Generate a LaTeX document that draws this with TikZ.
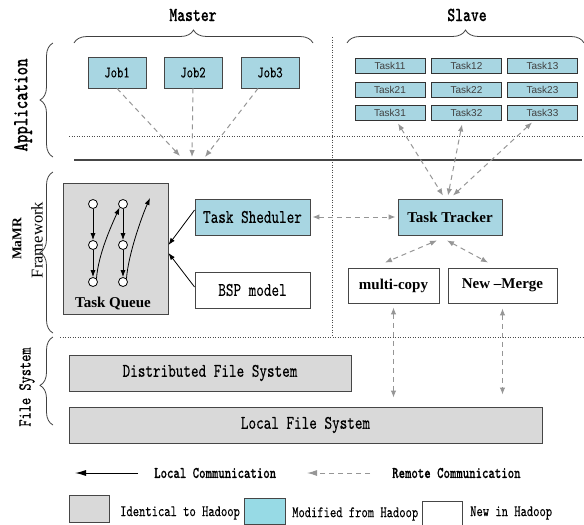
\documentclass[tikz,border=0pt]{standalone}
\usepackage{fontspec}
\newfontfamily\sansf{Liberation Sans}
\newfontfamily\serifb{Liberation Serif}
\newfontfamily\simtt{lmmono10-regular.otf}[BoldFont=lmmonolt10-bold.otf, FakeStretch=0.75,
  UprightFeatures={FakeBold=0.2}, BoldFeatures={FakeBold=0.3}]
\usetikzlibrary{arrows.meta,decorations.pathreplacing,calc}

\definecolor{boxblue}{RGB}{168,214,226}
\definecolor{boxgray}{RGB}{217,217,217}
\definecolor{edgegray}{RGB}{70,70,70}
\definecolor{dashgray}{RGB}{150,150,150}
\newcommand\fsz[1]{\fontsize{#1}{#1}\selectfont}

\tikzset{
  box/.style={draw=edgegray, line width=0.9pt, inner sep=0pt},
  jobbox/.style={box, fill=boxblue, minimum width=58pt, minimum height=31pt, font=\simtt\fsz{16}},
  taskbox/.style={box, draw=black!80, fill=boxblue, minimum width=70pt, minimum height=15pt, font=\sansf\fsz{10}, text=black!75},
  monobox/.style={box, minimum height=36pt, font=\simtt\fsz{19.3}},
  serbox/.style={box, minimum height=35pt, font=\serifb\bfseries\fsz{15}},
  dot/.style={circle, draw=black, fill=white, line width=0.8pt, minimum size=9pt, inner sep=0pt},
  qarrow/.style={draw=black, line width=0.8pt, -{Latex[length=7pt,width=5pt]}},
  remote/.style={draw=dashgray, line width=1pt, dash pattern=on 5pt off 4pt},
  rhead/.style={remote, -{Latex[length=7pt,width=5.5pt]}},
  rboth/.style={remote, {Latex[length=7pt,width=5.5pt]}-{Latex[length=7pt,width=5.5pt]}},
  cbrace/.style={decorate, decoration={brace, amplitude=13pt}, draw=black!75, line width=0.8pt},
  sepdot/.style={draw=black!70, line width=0.7pt, dash pattern=on 1pt off 1.5pt},
  lbl/.style={font=\simtt\fsz{16}, anchor=west, inner sep=0pt}
}

\begin{document}
\begin{tikzpicture}[x=1pt, y=-1pt]
\useasboundingbox (0,0) rectangle (584,525);

% headings and braces
\node[font=\simtt\bfseries\fsz{20}] (master) at (193,15) {Master};
\node[font=\simtt\bfseries\fsz{20}] (slave) at (467,15) {Slave};
\draw[cbrace] (74,43) -- (313,43);
\draw[cbrace] (347,43) -- (584,43);

% layer braces and labels
\draw[cbrace] (53,157) -- (53,43);
\draw[cbrace] (53,333) -- (53,172);
\draw[cbrace, decoration={aspect=0.45}] (53,425) -- (53,337);
\node[rotate=90, font=\simtt\bfseries\fsz{21.5}] (lapp) at (23,105) {Application};
\node[rotate=90, font=\serifb\bfseries\fsz{13.5}] (lmamr) at (17,239) {MaMR};
\node[rotate=90, font=\serifb\fsz{16.5}] (lfw) at (37,240) {Framework};
\node[rotate=90, font=\simtt\fsz{18.3}] (lfsys) at (27,387) {File System};

% separators
\draw[sepdot] (332,37) -- (332,335);
\draw[sepdot] (69,136) -- (584,136);
\draw[sepdot] (60,337) -- (584,337);
\draw[draw=edgegray, line width=1.2pt] (74,160) -- (582,160);

% application layer
\node[jobbox] (job1) at (117,72.5) {Job1};
\node[jobbox] (job2) at (193,72.5) {Job2};
\node[jobbox] (job3) at (270,72.5) {Job3};
\foreach \r/\y in {1/65.5, 2/89.5, 3/112.5}{
  \node[taskbox] (t\r1) at (390,\y) {Task\r1};
  \node[taskbox] (t\r2) at (466.5,\y) {Task\r2};
  \node[taskbox] (t\r3) at (542.5,\y) {Task\r3};
}
\coordinate (qa) at (180,156);
\coordinate (qb) at (192,157);
\coordinate (qc) at (205,157);
\draw[rhead] (job1.south) -- (qa);
\draw[rhead] (job2.south) -- (qb);
\draw[rhead] ([xshift=-12pt]job3.south) -- (qc);

% framework layer
\node[box, fill=boxgray, minimum width=105pt, minimum height=131pt] (tq) at (115.5,248.5) {};
\node[font=\serifb\bfseries\fsz{15}] (tqlabel) at (113,304) {Task Queue};
\node[dot] (c11) at (93,204) {};
\node[dot] (c12) at (93,245) {};
\node[dot] (c13) at (93,282) {};
\node[dot] (c21) at (123,204) {};
\node[dot] (c22) at (123,245) {};
\node[dot] (c23) at (123,282) {};
\coordinate (qend) at (150,198);
\draw[qarrow] (c11) -- (c12);
\draw[qarrow] (c12) -- (c13);
\draw[qarrow] (c21) -- (c22);
\draw[qarrow] (c22) -- (c23);
\draw[qarrow] (c13.north east) .. controls +(2,-25) and +(-8,18) .. (c21.south west);
\draw[qarrow] (c23.north east) .. controls +(2,-25) and +(-8,18) .. (qend);

\node[monobox, fill=boxblue, minimum width=115pt] (sched) at (252.5,217) {Task Sheduler};
\node[monobox, fill=white, minimum width=115pt] (bsp) at (252.5,290) {BSP model};
\node[serbox, fill=boxblue, minimum width=104pt, minimum height=36pt] (tracker) at (450,217) {Task Tracker};
\node[serbox, fill=white, minimum width=91pt] (mc) at (393.5,285.5) {multi-copy};
\node[serbox, fill=white, minimum width=109pt] (nm) at (502.5,285.5) {New \textendash Merge};

\draw[qarrow] ([yshift=7pt]sched.west) -- ([yshift=3.5pt]tq.east);
\draw[qarrow] ([yshift=3pt]bsp.west) -- ([yshift=-4.5pt]tq.east);

\draw[rboth, shorten <=2pt, shorten >=2pt] (sched.east) -- (tracker.west);
\draw[rboth] ([xshift=8pt,yshift=-3pt]t31.south) -- ([xshift=-7pt,yshift=3pt]tracker.north);
\draw[rboth] ([xshift=-4.5pt,yshift=-4pt]t32.south) -- ([xshift=-2pt,yshift=3pt]tracker.north);
\draw[rboth] ([xshift=-10.5pt,yshift=-2pt]t33.south) -- ([xshift=3pt,yshift=3pt]tracker.north);
\draw[rboth] ([xshift=-13pt,yshift=-5pt]tracker.south) -- ([xshift=-8.5pt,yshift=5pt]mc.north);
\draw[rboth] ([xshift=-3pt,yshift=-5pt]tracker.south) -- ([xshift=-14.5pt,yshift=5pt]nm.north);

% file system layer
\node[monobox, fill=boxgray, minimum width=282pt] (dfs) at (210,373) {Distributed File System};
\node[monobox, fill=boxgray, minimum width=473pt] (lfs) at (305.5,425) {Local File System};
\draw[rboth] ([yshift=-4pt]mc.south) -- ($(mc.south |- lfs.north)+(0,-9)$);
\draw[rboth] ([yshift=-5pt]nm.south) -- ($(nm.south |- lfs.north)+(0,-12)$);

% legend
\coordinate (lsa) at (138,473);
\coordinate (lsb) at (75,473);
\coordinate (lra) at (370,473);
\coordinate (lrb) at (307,473);
\draw[draw=black, line width=1pt, -{Latex[length=11pt,width=6pt]}] (lsa) -- (lsb);
\draw[remote, -{Latex[length=10pt,width=6pt]}] (lra) -- (lrb);
\node[lbl, font=\simtt\bfseries\fsz{16.3}] (tlocal) at (154,473) {Local Communication};
\node[lbl, font=\simtt\bfseries\fsz{16.3}] (tremote) at (392,473) {Remote Communication};

\node[box, fill=boxgray, minimum width=40pt, minimum height=27pt] (kgray) at (89,508.5) {};
\node[box, fill=boxblue!90!cyan, minimum width=41pt, minimum height=26pt] (kblue) at (264.5,511) {};
\node[box, fill=white, minimum width=40pt, minimum height=24pt] (kwhite) at (442,513) {};
\node[lbl] (tident) at (120,513) {Identical to Hadoop};
\node[lbl] (tmod) at (292,514) {Modified from Hadoop};
\node[lbl] (tnew) at (470,513) {New in Hadoop};
\end{tikzpicture}
\end{document}
